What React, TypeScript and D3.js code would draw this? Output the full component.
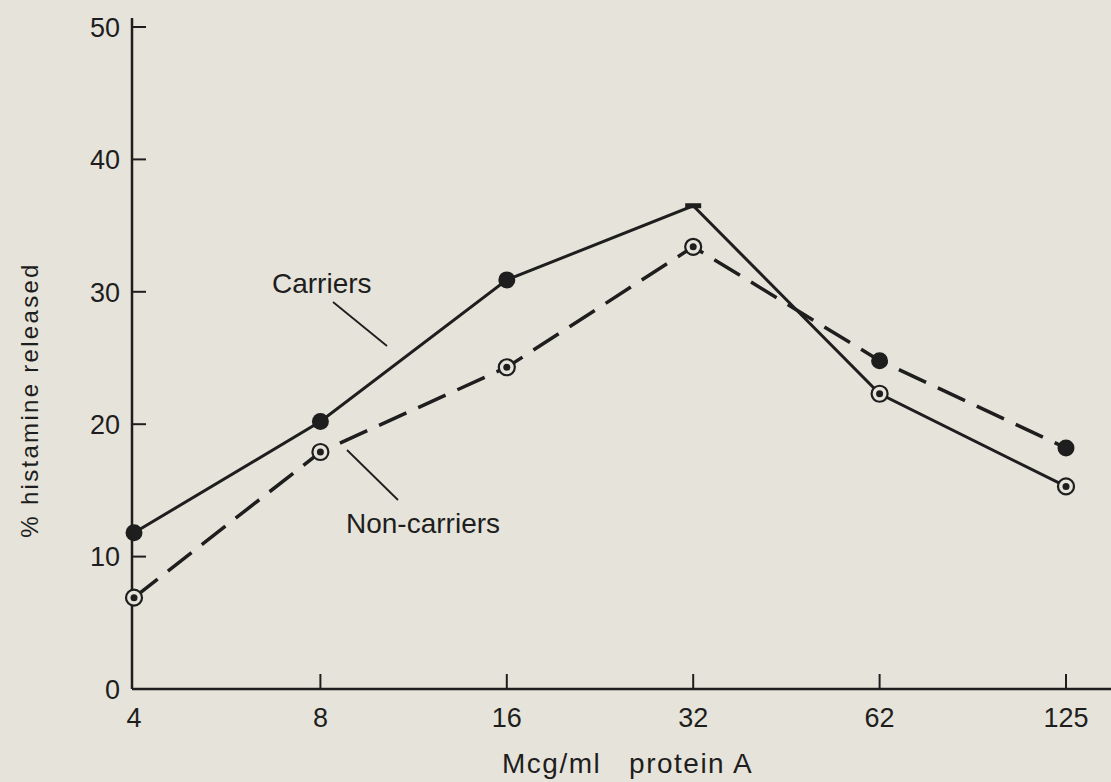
import React from "react";
import * as d3 from "d3";

const doses = ["4", "8", "16", "32", "62", "125"];
const carriers = [11.8, 20.2, 30.9, 36.5, 22.3, 15.3];
const nonCarriers = [6.9, 17.9, 24.3, 33.4, 24.8, 18.2];
const carrierMarkers = ["filled", "filled", "filled", "dash", "open", "open"];
const nonCarrierMarkers = ["open", "open", "open", "open", "filled", "filled"];
const yTicks = [0, 10, 20, 30, 40, 50];

const W = 1111;
const H = 782;
const ink = "#1e1e1e";
const bg = "#e6e4da";

export default function App() {
  const x = d3.scalePoint<string>().domain(doses).range([134, 1066]);
  const y = d3.scaleLinear().domain([0, 50]).range([689, 27]);
  const line = d3
    .line<number>()
    .x((_, i) => x(doses[i]) as number)
    .y((d) => y(d));

  const marker = (kind: string, cx: number, cy: number, key: string) => {
    if (kind === "filled") return <circle key={key} cx={cx} cy={cy} r={8.5} fill={ink} />;
    if (kind === "dash")
      return <rect key={key} x={cx - 8} y={cy - 2.5} width={16} height={5} fill={ink} />;
    return (
      <g key={key}>
        <circle cx={cx} cy={cy} r={8} fill={bg} stroke={ink} strokeWidth={2.2} />
        <circle cx={cx} cy={cy} r={3.5} fill={ink} />
      </g>
    );
  };

  const font = "'Liberation Sans', Arial, sans-serif";

  return (
    <svg width={W} height={H} style={{ position: "absolute", left: 0, top: 0 }}>
      <rect x={0} y={0} width={W} height={H} fill={bg} />
      {/* axes */}
      <line x1={132} x2={132} y1={18} y2={689} stroke={ink} strokeWidth={2.5} />
      <line x1={132} x2={W} y1={689} y2={689} stroke={ink} strokeWidth={2.5} />
      {yTicks.map((t) => (
        <g key={"y" + t}>
          {t > 0 && <line x1={132} x2={146} y1={y(t)} y2={y(t)} stroke={ink} strokeWidth={2} />}
          <text x={120} y={y(t)} dy="0.36em" textAnchor="end" fontFamily={font} fontSize={27} fill={ink}>
            {t}
          </text>
        </g>
      ))}
      {doses.map((d, i) => (
        <g key={"x" + d}>
          {i > 0 && (
            <line x1={x(d)} x2={x(d)} y1={689} y2={674} stroke={ink} strokeWidth={2} />
          )}
          <text x={x(d)} y={727} textAnchor="middle" fontFamily={font} fontSize={27} fill={ink}>
            {d}
          </text>
        </g>
      ))}
      <text
        transform="translate(38,400) rotate(-90)"
        textAnchor="middle"
        fontFamily={font}
        fontSize={24}
        letterSpacing={2.3}
        fill={ink}
      >
        % histamine released
      </text>
      <text x={502} y={773} fontFamily={font} fontSize={28} letterSpacing={1.5} fill={ink} xmlSpace="preserve">
        {"Mcg/ml   protein A"}
      </text>

      {/* series */}
      <path d={line(carriers) ?? ""} fill="none" stroke={ink} strokeWidth={3} />
      <path
        d={line(nonCarriers) ?? ""}
        fill="none"
        stroke={ink}
        strokeWidth={3.5}
        strokeDasharray="30 13"
      />
      {carriers.map((v, i) => marker(carrierMarkers[i], x(doses[i]) as number, y(v), "c" + i))}
      {nonCarriers.map((v, i) => marker(nonCarrierMarkers[i], x(doses[i]) as number, y(v), "n" + i))}

      {/* labels */}
      <text x={272} y={293} fontFamily={font} fontSize={28} fill={ink}>
        Carriers
      </text>
      <line x1={333} x2={387} y1={302} y2={346} stroke={ink} strokeWidth={1.8} />
      <text x={346} y={533} fontFamily={font} fontSize={28} fill={ink}>
        Non-carriers
      </text>
      <line x1={347} x2={398} y1={450} y2={500} stroke={ink} strokeWidth={1.8} />
    </svg>
  );
}
